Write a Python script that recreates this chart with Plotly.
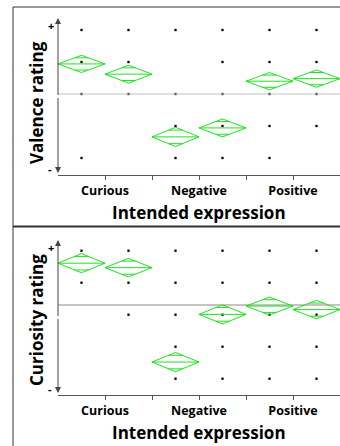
import math
import plotly.graph_objects as go

W, H = 340, 446

groups = ["Curious", "Negative", "Positive"]
tick_labels = ["Curious", "", "Negative", "", "Positive"]

# Valence panel: means and CI half-widths per sub-column (2 per group)
valence_means = [0.94, 0.62, -1.34, -1.06, 0.40, 0.48]
valence_ci = [0.27, 0.28, 0.30, 0.28, 0.27, 0.27]
valence_grand = 0.0
valence_points = [
    [2, 1, 0, -2],
    [2, 1, 0],
    [2, 0, -1, -2],
    [2, 1, 0, -1, -2],
    [2, 1, 0, -1, -2],
    [2, 1, 0, -1],
]

# Curiosity panel
curiosity_means = [1.61, 1.47, -1.48, 0.01, 0.27, 0.16]
curiosity_ci = [0.30, 0.29, 0.30, 0.30, 0.28, 0.29]
curiosity_grand = 0.30
curiosity_points = [
    [2, 1],
    [2, 1, 0],
    [2, 1, 0, -1, -2],
    [2, 1, 0, -1, -2],
    [2, 1, 0, -1, -2],
    [2, 1, 0, -1, -2],
]

GREEN = "#22e022"
AXC = "#555555"
FONT = "Open Sans"


def px(x):
    return x / W


def py(y):
    return 1 - y / H


fig = go.Figure()

panels = [
    dict(xa="x", ya="y", means=valence_means, ci=valence_ci, pts=valence_points,
         grand=valence_grand, zero_px=94.0, top=18, bottom=175, title="Valence rating",
         title_y=103, xt_y=212),
    dict(xa="x2", ya="y2", means=curiosity_means, ci=curiosity_ci, pts=curiosity_points,
         grand=curiosity_grand, zero_px=314.7, top=240, bottom=395, title="Curiosity rating",
         title_y=320, xt_y=432),
]
UNIT = 32.0

annotations = []
shapes = []
for i, p in enumerate(panels):
    xa, ya = p["xa"], p["ya"]
    # data dots
    xs, ys = [], []
    for c, vals in enumerate(p["pts"]):
        for v in vals:
            xs.append(c + 0.5)
            ys.append(v)
    fig.add_trace(go.Scatter(x=xs, y=ys, mode="markers", xaxis=xa, yaxis=ya,
                             marker=dict(symbol="square", size=2.3, color="black"),
                             showlegend=False, hoverinfo="skip"))
    # grand mean line
    fig.add_trace(go.Scatter(x=[0, 6], y=[p["grand"], p["grand"]], mode="lines",
                             xaxis=xa, yaxis=ya,
                             line=dict(color="#c4c4c4", width=1.2 if i == 0 else 2),
                             showlegend=False, hoverinfo="skip"))
    # means diamonds
    for c, (m, h) in enumerate(zip(p["means"], p["ci"])):
        cx = c + 0.5
        dx = [cx - 0.5, cx, cx + 0.5, cx, cx - 0.5, None, cx - 0.5, cx + 0.5]
        dy = [m, m + h, m, m - h, m, None, m, m]
        off = h / math.sqrt(2)
        hw = 0.5 * (1 - 1 / math.sqrt(2))
        for s in (1, -1):
            dx += [None, cx - hw, cx + hw]
            dy += [None, m + s * off, m + s * off]
        fig.add_trace(go.Scatter(x=dx, y=dy, mode="lines", xaxis=xa, yaxis=ya,
                                 line=dict(color=GREEN, width=1),
                                 showlegend=False, hoverinfo="skip"))
    top_v = (p["zero_px"] - p["top"]) / UNIT
    bot_v = (p["zero_px"] - p["bottom"]) / UNIT
    mid = (p["top"] + p["bottom"]) / 2
    # y axis arrows
    annotations.append(dict(x=0, y=top_v, xref=xa, yref=ya, ax=0,
                            ay=mid - p["top"], text="", showarrow=True,
                            arrowhead=2, arrowsize=1.2, arrowwidth=1, arrowcolor="#444444"))
    annotations.append(dict(x=0, y=bot_v + 2 / UNIT, xref=xa, yref=ya, ax=0,
                            ay=-(p["bottom"] - 2 - mid), text="", showarrow=True,
                            arrowhead=2, arrowsize=1.2, arrowwidth=1, arrowcolor="#444444"))
    # + and - labels
    annotations.append(dict(x=px(51), y=py(p["top"] + 7), xref="paper", yref="paper",
                            xanchor="center", yanchor="middle",
                            text="<b>+</b>", showarrow=False,
                            font=dict(family=FONT, size=11, color="black")))
    annotations.append(dict(x=px(50), y=py(p["bottom"] - 7), xref="paper", yref="paper",
                            xanchor="center", yanchor="middle",
                            text="<b>-</b>", showarrow=False,
                            font=dict(family=FONT, size=11, color="black")))
    # axis titles
    annotations.append(dict(x=px(36), y=py(p["title_y"]), xref="paper", yref="paper",
                            xanchor="center", yanchor="middle",
                            text="<b>" + p["title"] + "</b>", textangle=-90, showarrow=False,
                            font=dict(family=FONT, size=17, color="black")))
    annotations.append(dict(x=px(199), y=py(p["xt_y"]), xref="paper", yref="paper",
                            xanchor="center", yanchor="middle",
                            text="<b>Intended expression</b>", showarrow=False,
                            font=dict(family=FONT, size=17, color="black")))

    ax_common = dict(range=[0, 6], domain=[px(58), 1], showline=True, linecolor=AXC,
                     linewidth=1, ticks="outside", ticklen=4, tickcolor=AXC,
                     tickvals=[1, 2, 3, 4, 5], ticktext=tick_labels, showgrid=False,
                     zeroline=False, fixedrange=True,
                     tickfont=dict(family=FONT, size=12.5, color="black", weight="bold"))
    ay_common = dict(range=[bot_v, top_v], domain=[py(p["bottom"]), py(p["top"])],
                     showline=False, showticklabels=False, ticks="", showgrid=False,
                     zeroline=False, fixedrange=True)
    if i == 0:
        fig.update_layout(xaxis=dict(anchor="y", **ax_common),
                          yaxis=dict(anchor="x", **ay_common))
    else:
        fig.update_layout(xaxis2=dict(anchor="y2", **ax_common),
                          yaxis2=dict(anchor="x2", **ay_common))

# panel frames
shapes.append(dict(type="line", xref="paper", yref="paper", x0=px(13), x1=px(13),
                   y0=py(7), y1=0, line=dict(color="#333333", width=1)))
shapes.append(dict(type="line", xref="paper", yref="paper", x0=px(13), x1=1,
                   y0=py(7), y1=py(7), line=dict(color="#333333", width=1)))
shapes.append(dict(type="line", xref="paper", yref="paper", x0=px(13), x1=1,
                   y0=py(226.5), y1=py(226.5), line=dict(color="#333333", width=2)))

fig.update_layout(width=W, height=H, margin=dict(l=0, r=0, t=0, b=0),
                  paper_bgcolor="white", plot_bgcolor="white",
                  annotations=annotations, shapes=shapes, showlegend=False)

fig.write_html("out.html", config={"displayModeBar": False},
               post_script="document.body.style.margin='0';")
